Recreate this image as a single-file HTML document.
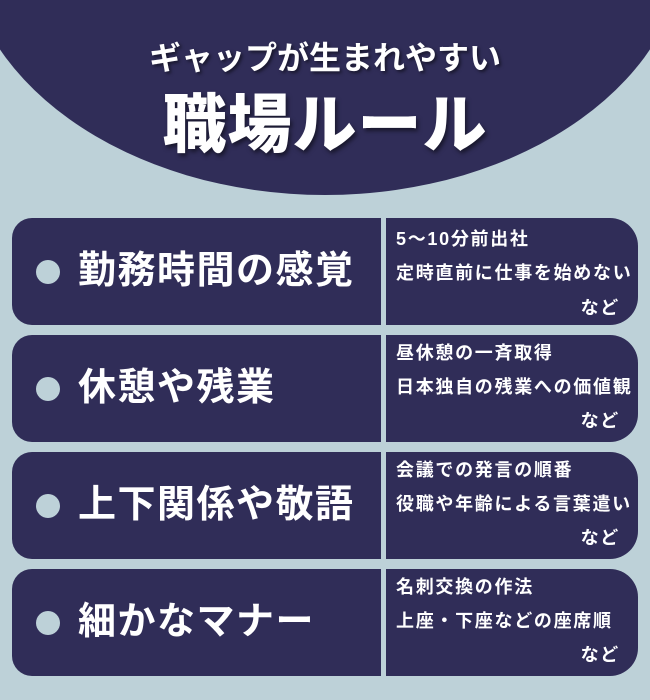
<!DOCTYPE html>
<html><head><meta charset="utf-8"><style>
body{margin:0;width:650px;height:700px;background:#bdd1d8;position:relative;overflow:hidden;font-family:"Liberation Sans","Noto Sans CJK JP",sans-serif;font-weight:bold;color:#fff}
.ell{position:absolute;left:-37px;top:-325px;width:724px;height:520px;border-radius:50%;background:#302d58}
.t1{position:absolute;top:33px;left:0;width:650px;text-align:center;font-size:32px;text-shadow:2px 2px 3px rgba(0,0,0,.5)}
.t2{position:absolute;top:74px;left:0;width:650px;text-align:center;font-size:64px;font-weight:900;text-shadow:2px 3px 4px rgba(0,0,0,.5);letter-spacing:1px}
.row{position:absolute;left:12px;width:626px;height:107px}
.l{position:absolute;left:0;top:0;width:369px;height:107px;background:#302d58;border-radius:20px 0 0 20px}
.r{position:absolute;left:374px;top:0;width:252px;height:107px;background:#302d58;border-radius:0 28px 28px 0}
.dot{position:absolute;left:24px;top:42px;width:24px;height:24px;border-radius:50%;background:#bdd1d8}
.lab{position:absolute;left:66px;top:27px;font-size:38px;line-height:52px;white-space:nowrap;letter-spacing:1.5px}
.rt{position:absolute;left:10px;font-size:18px;line-height:24px;white-space:nowrap;letter-spacing:1.7px}
.nd{position:absolute;right:18px;top:78px;font-size:18px;line-height:24px;letter-spacing:1.7px}
</style></head><body>
<div class="ell"></div>
<div class="t1">ギャップが生まれやすい</div>
<div class="t2">職場ルール</div>

<div class="row" style="top:218px"><div class="l"><div class="dot"></div><div class="lab">勤務時間の感覚</div></div>
<div class="r"><div class="rt" style="top:9px">5〜10分前出社</div><div class="rt" style="top:43px">定時直前に仕事を始めない</div><div class="nd">など</div></div></div>

<div class="row" style="top:335px"><div class="l"><div class="dot"></div><div class="lab">休憩や残業</div></div>
<div class="r"><div class="rt" style="top:6px">昼休憩の一斉取得</div><div class="rt" style="top:40px">日本独自の残業への価値観</div><div class="nd" style="top:74px">など</div></div></div>

<div class="row" style="top:452px"><div class="l"><div class="dot"></div><div class="lab">上下関係や敬語</div></div>
<div class="r"><div class="rt" style="top:6px">会議での発言の順番</div><div class="rt" style="top:40px">役職や年齢による言葉遣い</div><div class="nd" style="top:74px">など</div></div></div>

<div class="row" style="top:569px"><div class="l"><div class="dot"></div><div class="lab">細かなマナー</div></div>
<div class="r"><div class="rt" style="top:6px">名刺交換の作法</div><div class="rt" style="top:40px">上座・下座などの座席順</div><div class="nd" style="top:74px">など</div></div></div>
</body></html>
